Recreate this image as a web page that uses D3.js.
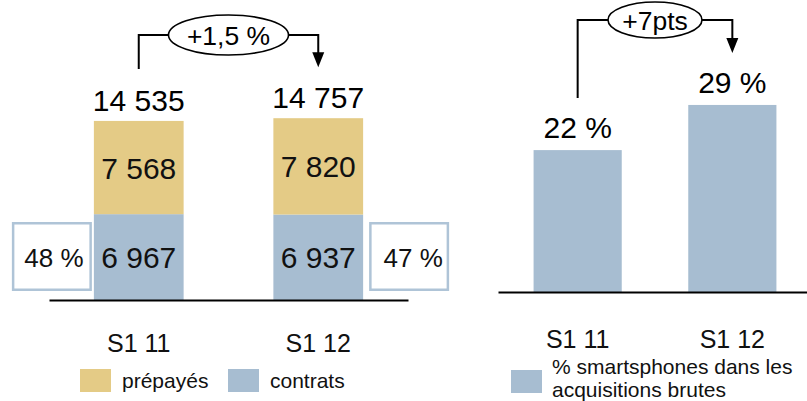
<!DOCTYPE html>
<html>
<head>
<meta charset="utf-8">
<script src="https://cdn.jsdelivr.net/npm/d3@7"></script>
<style>
  html, body { margin: 0; padding: 0; background: #fff; }
  svg { display: block; font-family: "Liberation Sans", Arial, Helvetica, sans-serif; }
</style>
</head>
<body>
<svg id="chart" width="807" height="401"></svg>
<script>
// Semesters shown on both panels
const categories = ["S1 11", "S1 12"];
// Gross acquisitions split by offer type
const prepayes = [7568, 7820];
const contrats = [6967, 6937];
const totals = [14535, 14757];
// Share of contracts in gross acquisitions
const contratShare = ["48 %", "47 %"];
// Share of smartphones in gross acquisitions (%)
const smartphoneShare = [22, 29];
// Change labels
const growthLabels = ["+1,5 %", "+7pts"];
// Legend entries
const legendLeft = ["prépayés", "contrats"];
const legendRight = ["% smartsphones dans les", "acquisitions brutes"];

const YELLOW = "#e4cb86";
const BLUE = "#a7bdd1";
const BOX = "#afc4d7";
const fmt = v => d3.format(",")(v).replace(/,/g, " ");

const svg = d3.select("#chart");

// ---------- Left panel: stacked acquisitions ----------
const xL = d3.scaleBand().domain(categories).range([49, 408]).paddingInner(0.5).paddingOuter(0.25);
const baseL = 300;
const yL = d3.scaleLinear().domain([0, 16000]).range([baseL, baseL - 16000 * 0.01232]);

const stackData = categories.map((c, i) => ({ cat: c, contrats: contrats[i], prepayes: prepayes[i] }));
const series = d3.stack().keys(["contrats", "prepayes"])(stackData);
const colors = { contrats: BLUE, prepayes: YELLOW };

const gL = svg.append("g");
series.forEach(s => {
  gL.selectAll(null).data(s).enter().append("rect")
    .attr("x", d => xL(d.data.cat))
    .attr("width", xL.bandwidth())
    .attr("y", d => yL(d[1]))
    .attr("height", d => yL(d[0]) - yL(d[1]))
    .attr("fill", colors[s.key]);
  gL.selectAll(null).data(s).enter().append("text")
    .attr("x", d => xL(d.data.cat) + xL.bandwidth() / 2)
    .attr("y", d => (yL(d[0]) + yL(d[1])) / 2 + 11)
    .attr("text-anchor", "middle")
    .attr("font-size", 30)
    .attr("fill", "#111")
    .text(d => fmt(d[1] - d[0]));
});

// Totals above each stack
gL.selectAll(null).data(totals).enter().append("text")
  .attr("x", (d, i) => xL(categories[i]) + xL.bandwidth() / 2)
  .attr("y", d => yL(d) - 10)
  .attr("text-anchor", "middle")
  .attr("font-size", 30)
  .attr("fill", "#000")
  .text(d => fmt(d));

// Contract share boxes beside the bars
const boxW = 80, boxH = 69;
const boxX = [xL(categories[0]) - boxW - 2, xL(categories[1]) + xL.bandwidth() + 6];
contratShare.forEach((t, i) => {
  gL.append("rect")
    .attr("x", boxX[i] + 1.25).attr("y", baseL - 78 + 1.25)
    .attr("width", boxW - 2.5).attr("height", boxH - 2.5)
    .attr("fill", "#fff").attr("stroke", BOX).attr("stroke-width", 2.5);
  gL.append("text")
    .attr("x", boxX[i] + boxW / 2 + (i === 0 ? 2 : 4))
    .attr("y", baseL - 33)
    .attr("text-anchor", "middle")
    .attr("font-size", 26)
    .attr("fill", "#111")
    .text(t);
});

// Axis line and category labels
const axL = gL.append("g").attr("transform", `translate(0,${baseL})`)
  .call(d3.axisBottom(xL).tickSizeInner(0).tickSizeOuter(0).tickPadding(34));
axL.select(".domain").attr("stroke", "#000").attr("stroke-width", 2);
axL.selectAll("text").attr("font-size", 25).attr("font-family", null).attr("fill", "#111");

// Legend
const legL = [{ label: legendLeft[0], color: YELLOW, x: 80 }, { label: legendLeft[1], color: BLUE, x: 228 }];
legL.forEach(l => {
  gL.append("rect").attr("x", l.x).attr("y", 369).attr("width", 31).attr("height", 23).attr("fill", l.color);
  gL.append("text").attr("x", l.x + 42).attr("y", 388).attr("font-size", 21).attr("fill", "#111").text(l.label);
});

// ---------- Right panel: smartphone share ----------
const xR = d3.scaleBand().domain(categories).range([498, 812]).paddingInner(0.43).paddingOuter(0.23);
const baseR = 292;
const yR = d3.scaleLinear().domain([0, 30]).range([baseR, baseR - 30 * 6.45]);

const gR = svg.append("g");
gR.selectAll(null).data(smartphoneShare).enter().append("rect")
  .attr("x", (d, i) => xR(categories[i]))
  .attr("width", xR.bandwidth())
  .attr("y", d => yR(d))
  .attr("height", d => baseR - yR(d))
  .attr("fill", BLUE);
gR.selectAll(null).data(smartphoneShare).enter().append("text")
  .attr("x", (d, i) => xR(categories[i]) + xR.bandwidth() / 2)
  .attr("y", d => yR(d) - 12)
  .attr("text-anchor", "middle")
  .attr("font-size", 30)
  .attr("fill", "#000")
  .text(d => d + " %");

const axR = gR.append("g").attr("transform", `translate(0,${baseR})`)
  .call(d3.axisBottom(xR).tickSizeInner(0).tickSizeOuter(0).tickPadding(38));
axR.select(".domain").attr("stroke", "#000").attr("stroke-width", 2);
axR.selectAll("text").attr("font-size", 25).attr("font-family", null).attr("fill", "#111");

gR.append("rect").attr("x", 511).attr("y", 370).attr("width", 31).attr("height", 23).attr("fill", BLUE);
legendRight.forEach((t, i) => {
  gR.append("text").attr("x", 552).attr("y", 374 + i * 23).attr("font-size", 21).attr("fill", "#111").text(t);
});

// ---------- Change brackets with oval labels ----------
function bracket(g, x1, x2, yStart, yEnd, yTop, rx, ry, label) {
  const cx = (x1 + x2) / 2;
  const line = d3.line();
  g.append("path")
    .attr("d", line([[x1, yStart], [x1, yTop], [cx - rx, yTop]]))
    .attr("fill", "none").attr("stroke", "#000").attr("stroke-width", 2);
  g.append("path")
    .attr("d", line([[cx + rx, yTop], [x2, yTop], [x2, yEnd - 12]]))
    .attr("fill", "none").attr("stroke", "#000").attr("stroke-width", 2);
  g.append("path")
    .attr("d", line([[x2 - 6, yEnd - 15], [x2 + 6, yEnd - 15], [x2, yEnd]]) + "Z")
    .attr("fill", "#000");
  g.append("ellipse")
    .attr("cx", cx).attr("cy", yTop).attr("rx", rx).attr("ry", ry)
    .attr("fill", "#fff").attr("stroke", "#000").attr("stroke-width", 1.6);
  g.append("text")
    .attr("x", cx).attr("y", yTop + 9.5)
    .attr("text-anchor", "middle").attr("font-size", 26.5).attr("fill", "#000")
    .text(label);
}

const cL = categories.map(c => xL(c) + xL.bandwidth() / 2);
bracket(gL, cL[0], cL[1], yL(totals[0]) - 52, yL(totals[1]) - 51, 35, 60, 20, growthLabels[0]);

const cR = categories.map(c => xR(c) + xR.bandwidth() / 2);
bracket(gR, cR[0], cR[1], yR(smartphoneShare[0]) - 52, yR(smartphoneShare[1]) - 52, 20, 47, 18, growthLabels[1]);
</script>
</body>
</html>
